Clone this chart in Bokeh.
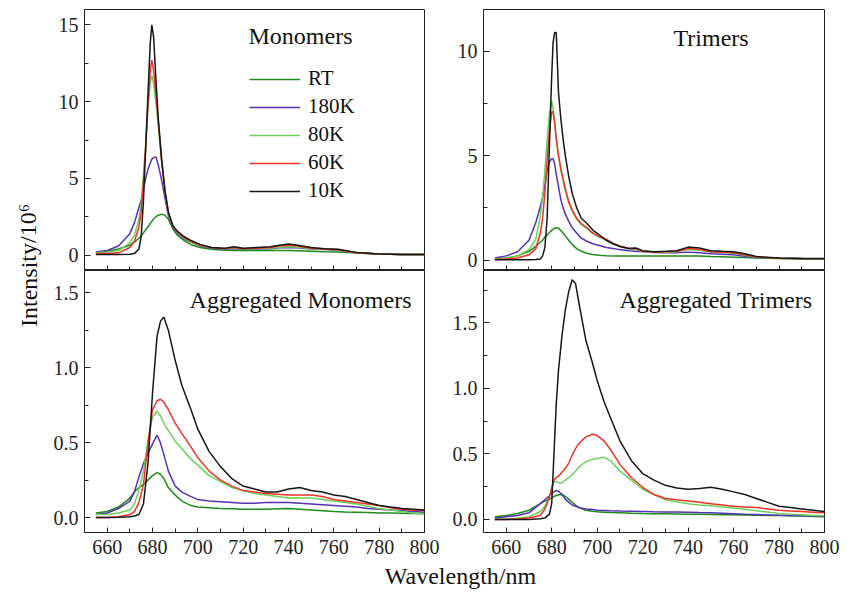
from bokeh.plotting import figure
from bokeh.models import (SingleIntervalTicker, NumeralTickFormatter, Label, Legend,
                          LegendItem, Range1d)
from bokeh.layouts import row, column
from bokeh.embed import file_html
from bokeh.resources import INLINE

FONT = "'Liberation Serif', 'DejaVu Serif', serif"

# ---------------- data ----------------
series_names = ["RT", "180K", "80K", "60K", "10K"]
series_colors = ["#1d8a1d", "#5531b3", "#6cd05a", "#ec3326", "#161616"]

# Monomers
mono_wl = [655, 660, 665, 670, 672, 674, 675, 676, 677, 678, 679, 679.7, 680.5, 681.5, 682.5, 684,
           685.5, 687, 689, 691, 694, 697, 701, 706, 712, 716, 720, 726, 732, 736, 740, 744, 750,
           756, 762, 770, 780, 790, 800]
mono_RT = [0.15, 0.25, 0.4, 0.65, 0.85, 1.1, 1.25, 1.45, 1.65, 1.85, 2.05, 2.2, 2.35, 2.5, 2.6, 2.67,
           2.6, 2.35, 1.7, 1.3, 0.95, 0.68, 0.5, 0.38, 0.32, 0.3, 0.3, 0.3, 0.3, 0.3, 0.3, 0.28, 0.25,
           0.22, 0.2, 0.14, 0.08, 0.05, 0.05]
mono_180K = [0.2, 0.3, 0.6, 1.4, 2.1, 3.1, 3.6, 4.3, 5.0, 5.6, 6.0, 6.25, 6.35, 6.4, 5.9, 4.9,
             3.7, 2.6, 1.8, 1.4, 1.05, 0.85, 0.6, 0.45, 0.38, 0.42, 0.38, 0.4, 0.42, 0.48, 0.5, 0.48,
             0.4, 0.36, 0.32, 0.15, 0.07, 0.05, 0.05]
mono_80K = [0.15, 0.2, 0.3, 0.8, 1.3, 2.3, 3.3, 5.2, 7.3, 9.6, 11.2, 11.7, 11.2, 10.0, 8.5, 6.1,
            4.1, 2.7, 1.85, 1.45, 1.1, 0.85, 0.62, 0.48, 0.4, 0.45, 0.4, 0.42, 0.45, 0.52, 0.55,
            0.52, 0.42, 0.38, 0.33, 0.15, 0.07, 0.05, 0.05]
mono_60K = [0.1, 0.1, 0.15, 0.5, 0.9, 1.8, 2.8, 4.8, 7.0, 9.8, 12.0, 12.7, 12.0, 10.5, 8.8, 6.2,
            4.2, 2.8, 1.9, 1.5, 1.15, 0.9, 0.65, 0.5, 0.42, 0.5, 0.42, 0.45, 0.5, 0.6, 0.65, 0.6,
            0.45, 0.4, 0.35, 0.16, 0.07, 0.05, 0.05]
mono_10K = [0.05, 0.05, 0.05, 0.06, 0.1, 0.4, 1.2, 3.5, 7.0, 10.5, 13.8, 15.0, 14.2, 11.5, 9.0, 6.3,
            4.2, 2.8, 1.9, 1.55, 1.2, 0.95, 0.7, 0.5, 0.45, 0.55, 0.45, 0.5, 0.55, 0.65, 0.72, 0.65,
            0.5, 0.42, 0.38, 0.18, 0.08, 0.05, 0.05]

# Trimers
tri_wl = [655, 660, 665, 670, 673, 675, 676, 677, 678, 679, 680, 680.6, 681.3, 682, 683, 684, 685,
          686, 687.5, 689, 691, 693, 695.5, 698, 701, 704, 707, 710, 714, 717, 720, 725, 730, 735,
          740, 745, 750, 755, 760, 765, 770, 780, 790, 800]
tri_RT = [0.05, 0.1, 0.2, 0.42, 0.65, 0.85, 0.95, 1.1, 1.2, 1.32, 1.42, 1.48, 1.52, 1.55, 1.53,
          1.42, 1.3, 1.15, 0.95, 0.75, 0.55, 0.42, 0.33, 0.27, 0.23, 0.21, 0.2, 0.19, 0.19, 0.19,
          0.19, 0.19, 0.19, 0.19, 0.2, 0.19, 0.17, 0.16, 0.14, 0.12, 0.1, 0.07, 0.05, 0.05]
tri_180K = [0.1, 0.2, 0.4, 0.95, 1.8, 2.55, 3.0, 3.6, 4.3, 4.7, 4.85, 4.85, 4.6, 4.1, 3.5, 2.9,
            2.5, 2.2, 1.85, 1.55, 1.3, 1.05, 0.9, 0.78, 0.7, 0.6, 0.55, 0.5, 0.45, 0.42, 0.4,
            0.36, 0.35, 0.35, 0.38, 0.35, 0.3, 0.28, 0.25, 0.18, 0.12, 0.09, 0.07, 0.06]
tri_80K = [0.05, 0.08, 0.2, 0.5, 1.0, 2.1, 3.0, 4.3, 5.8, 7.0, 7.6, 7.3, 6.6, 5.8, 5.0, 4.3, 3.8,
           3.3, 2.75, 2.35, 1.95, 1.7, 1.5, 1.28, 1.1, 0.95, 0.78, 0.65, 0.53, 0.52, 0.4, 0.37,
           0.38, 0.4, 0.5, 0.47, 0.38, 0.36, 0.33, 0.23, 0.14, 0.09, 0.07, 0.06]
tri_60K = [0.03, 0.05, 0.1, 0.25, 0.55, 1.3, 2.0, 3.2, 4.8, 6.2, 7.1, 7.1, 6.6, 5.8, 5.0, 4.4,
           3.9, 3.4, 2.8, 2.4, 2.0, 1.75, 1.55, 1.3, 1.12, 1.0, 0.8, 0.68, 0.55, 0.55, 0.42, 0.38,
           0.4, 0.42, 0.55, 0.5, 0.4, 0.38, 0.35, 0.25, 0.15, 0.09, 0.07, 0.06]
tri_10K = [0.02, 0.02, 0.02, 0.02, 0.03, 0.05, 0.2, 0.6, 2.0, 5.5, 8.8, 10.4, 10.9, 10.9, 8.0,
           6.8, 5.8, 5.0, 4.0, 3.2, 2.5, 2.0, 1.75, 1.45, 1.2, 0.95, 0.78, 0.65, 0.55, 0.58, 0.45,
           0.4, 0.42, 0.45, 0.62, 0.58, 0.45, 0.42, 0.4, 0.3, 0.17, 0.1, 0.08, 0.07]

# Aggregated monomers
amono_wl = [655, 660, 665, 670, 672, 674, 676, 678, 680, 682, 683.5, 685, 687, 690, 693, 697, 700,
            705, 710, 715, 720, 725, 730, 735, 740, 745, 750, 755, 760, 765, 770, 775, 780, 785,
            790, 795, 800]
amono_RT = [0.03, 0.04, 0.07, 0.13, 0.17, 0.2, 0.22, 0.25, 0.28, 0.3, 0.29, 0.26, 0.2, 0.15, 0.11,
            0.08, 0.07, 0.065, 0.06, 0.058, 0.055, 0.055, 0.055, 0.058, 0.06, 0.055, 0.05, 0.045,
            0.04, 0.037, 0.035, 0.033, 0.03, 0.03, 0.028, 0.027, 0.025]
amono_180K = [0.02, 0.03, 0.06, 0.11, 0.17, 0.27, 0.36, 0.43, 0.49, 0.55, 0.5, 0.42, 0.31, 0.21,
              0.17, 0.14, 0.12, 0.11, 0.105, 0.1, 0.095, 0.095, 0.1, 0.1, 0.1, 0.095, 0.09, 0.085,
              0.08, 0.075, 0.07, 0.06, 0.055, 0.05, 0.045, 0.04, 0.035]
amono_80K = [0.02, 0.02, 0.03, 0.05, 0.09, 0.18, 0.31, 0.52, 0.67, 0.71, 0.68, 0.63, 0.58, 0.51,
             0.46, 0.39, 0.35, 0.28, 0.24, 0.2, 0.18, 0.16, 0.15, 0.14, 0.13, 0.13, 0.13, 0.12,
             0.11, 0.1, 0.09, 0.075, 0.06, 0.05, 0.04, 0.03, 0.025]
amono_60K = [0.0, 0.0, 0.005, 0.02, 0.04, 0.1, 0.22, 0.49, 0.72, 0.78, 0.79, 0.77, 0.72, 0.63,
             0.56, 0.47, 0.4, 0.31, 0.25, 0.21, 0.18, 0.17, 0.16, 0.155, 0.15, 0.15, 0.15, 0.14,
             0.12, 0.11, 0.1, 0.09, 0.08, 0.065, 0.055, 0.05, 0.045]
amono_10K = [0.0, 0.0, 0.002, 0.005, 0.01, 0.02, 0.09, 0.36, 0.83, 1.21, 1.31, 1.34, 1.25, 1.05,
             0.88, 0.72, 0.59, 0.44, 0.34, 0.26, 0.21, 0.19, 0.17, 0.17, 0.19, 0.2, 0.18, 0.17,
             0.15, 0.14, 0.12, 0.1, 0.08, 0.07, 0.06, 0.055, 0.05]

# Aggregated trimers
atri_wl = [655, 660, 665, 670, 675, 677, 679, 680, 681, 682, 683, 684.5, 686, 687.5, 689, 690.5,
           692, 695, 698, 700, 703, 706, 710, 715, 720, 725, 730, 735, 740, 745, 750, 755, 760,
           765, 770, 775, 780, 785, 790, 795, 800]
atri_RT = [0.02, 0.03, 0.045, 0.07, 0.12, 0.14, 0.155, 0.165, 0.175, 0.182, 0.188, 0.19, 0.175,
           0.155, 0.13, 0.11, 0.09, 0.07, 0.062, 0.058, 0.055, 0.052, 0.05, 0.047, 0.045, 0.044,
           0.043, 0.042, 0.04, 0.039, 0.038, 0.036, 0.035, 0.033, 0.032, 0.03, 0.029, 0.027,
           0.025, 0.022, 0.02]
atri_180K = [0.01, 0.02, 0.03, 0.05, 0.12, 0.15, 0.18, 0.2, 0.21, 0.22, 0.215, 0.19, 0.155, 0.13,
             0.11, 0.1, 0.09, 0.08, 0.075, 0.07, 0.068, 0.066, 0.064, 0.062, 0.06, 0.058, 0.057,
             0.056, 0.055, 0.052, 0.05, 0.047, 0.044, 0.04, 0.037, 0.034, 0.031, 0.029, 0.027,
             0.026, 0.025]
atri_80K = [0.0, 0.003, 0.008, 0.02, 0.06, 0.1, 0.17, 0.24, 0.29, 0.29, 0.28, 0.28, 0.3, 0.32,
            0.34, 0.37, 0.4, 0.44, 0.46, 0.465, 0.475, 0.445, 0.37, 0.3, 0.23, 0.19, 0.15, 0.135,
            0.12, 0.11, 0.105, 0.095, 0.087, 0.077, 0.066, 0.056, 0.046, 0.04, 0.035, 0.03, 0.028]
atri_60K = [0.0, 0.0, 0.003, 0.01, 0.03, 0.08, 0.17, 0.24, 0.3, 0.32, 0.33, 0.36, 0.39, 0.43,
            0.49, 0.54, 0.58, 0.63, 0.65, 0.64, 0.6, 0.53, 0.42, 0.32, 0.245, 0.19, 0.16, 0.15,
            0.14, 0.13, 0.12, 0.11, 0.1, 0.095, 0.09, 0.08, 0.07, 0.065, 0.06, 0.055, 0.05]
atri_10K = [0.0, 0.0, 0.0, 0.0, 0.005, 0.01, 0.04, 0.12, 0.5, 0.88, 1.14, 1.4, 1.6, 1.74, 1.83,
            1.8, 1.65, 1.37, 1.19, 1.06, 0.9, 0.77, 0.6, 0.45, 0.35, 0.3, 0.26, 0.24, 0.23, 0.235,
            0.245, 0.23, 0.21, 0.19, 0.16, 0.13, 0.1, 0.09, 0.08, 0.07, 0.06]

x_ticks_interval = 20
AX = "#222222"


def make_panel(width, height, ymin, ymax, y_interval, border_left, border_right,
               border_top, border_bottom, show_x_labels, y_fmt=None):
    p = figure(width=width, height=height, output_backend="svg", toolbar_location=None,
               title=None,
               x_range=Range1d(650, 800), y_range=Range1d(ymin, ymax),
               min_border_left=border_left, min_border_right=border_right,
               min_border_top=border_top, min_border_bottom=border_bottom)
    p.grid.visible = False
    p.outline_line_color = AX
    p.outline_line_width = 1
    p.background_fill_color = "white"
    p.border_fill_color = "white"
    xa = p.xaxis[0]
    xa.ticker = SingleIntervalTicker(interval=x_ticks_interval, num_minor_ticks=2)
    xa.major_tick_in = 5
    xa.major_tick_out = 0
    xa.minor_tick_in = 4
    xa.minor_tick_out = 0
    xa.axis_line_color = AX
    xa.major_tick_line_color = AX
    xa.minor_tick_line_color = AX
    xa.major_label_text_font = FONT
    xa.major_label_text_font_size = "20px"
    if show_x_labels:
        xa.major_label_text_color = "#222222"
        xa.major_label_standoff = 7
    else:
        xa.major_label_text_color = None
        xa.major_label_standoff = 0
    ya = p.yaxis[0]
    ya.ticker = SingleIntervalTicker(interval=y_interval, num_minor_ticks=2)
    ya.major_tick_in = 6
    ya.major_tick_out = 0
    ya.minor_tick_in = 4
    ya.minor_tick_out = 0
    ya.axis_line_color = AX
    ya.major_tick_line_color = AX
    ya.minor_tick_line_color = AX
    ya.major_label_text_font = FONT
    ya.major_label_text_font_size = "20px"
    ya.major_label_text_color = "#222222"
    ya.major_label_standoff = 6
    if y_fmt:
        ya.formatter = NumeralTickFormatter(format=y_fmt)
    return p


def draw(p, wl, ys):
    rs = []
    for yv, c in zip(ys, series_colors):
        rs.append(p.line(wl, yv, line_color=c, line_width=1.5))
    return rs


def panel_label(p, text, x, y, align="left"):
    p.add_layout(Label(x=x, y=y, x_units="screen", y_units="screen", text=text,
                       text_font=FONT, text_font_size="24px", text_color="#111111",
                       text_align=align, text_baseline="middle"))


YW, LW, RW = 48, 396, 404
TOP_H, BOT_H, XL_H = 270, 294, 28

tl = make_panel(LW, TOP_H, -1, 16, 5, 36, 20, 9, 0, False)
tr = make_panel(RW, TOP_H, -0.5, 12, 5, 39, 24, 9, 0, False)
bl = make_panel(LW, BOT_H, -0.1, 1.65, 0.5, 36, 20, 0, 32, True, "0.0")
br = make_panel(RW, BOT_H, -0.1, 1.9, 0.5, 39, 24, 0, 32, True, "0.0")

r_tl = draw(tl, mono_wl, [mono_RT, mono_180K, mono_80K, mono_60K, mono_10K])
draw(tr, tri_wl, [tri_RT, tri_180K, tri_80K, tri_60K, tri_10K])
draw(bl, amono_wl, [amono_RT, amono_180K, amono_80K, amono_60K, amono_10K])
draw(br, atri_wl, [atri_RT, atri_180K, atri_80K, atri_60K, atri_10K])

legend = Legend(items=[LegendItem(label=n, renderers=[r]) for n, r in zip(series_names, r_tl)],
                location=(165, 67), padding=0, margin=0, spacing=3,
                glyph_width=51, glyph_height=20, label_height=20, label_standoff=8,
                label_text_font=FONT, label_text_font_size="21px", label_text_color="#111111",
                border_line_color=None, background_fill_alpha=0)
tl.add_layout(legend)

panel_label(tl, "Monomers", 164, 235)
panel_label(tr, "Trimers", 190, 233)
panel_label(bl, "Aggregated Monomers", 327, 233, "right")
panel_label(br, "Aggregated Trimers", 329, 233, "right")

# y-axis title strip
ystrip = figure(width=YW, height=TOP_H + BOT_H, output_backend="svg", toolbar_location=None,
                title=None, min_border=0, x_range=Range1d(0, 1), y_range=Range1d(0, 1))
ystrip.axis.visible = False
ystrip.grid.visible = False
ystrip.outline_line_color = None
ystrip.add_layout(Label(x=28, y=TOP_H + BOT_H - 265, x_units="screen", y_units="screen",
                        text="Intensity/10\u2076", angle=1.5708, text_font=FONT,
                        text_font_size="24px", text_color="#111111",
                        text_align="center", text_baseline="middle"))

# x-axis title strip
xstrip = figure(width=YW + LW + RW, height=XL_H, output_backend="svg", toolbar_location=None,
                title=None, min_border=0, x_range=Range1d(0, 1), y_range=Range1d(0, 1))
xstrip.axis.visible = False
xstrip.grid.visible = False
xstrip.outline_line_color = None
xstrip.add_layout(Label(x=460, y=17, x_units="screen", y_units="screen", text="Wavelength/nm",
                        text_font=FONT, text_font_size="24px", text_color="#111111",
                        text_align="center", text_baseline="middle"))

layout = column(row(ystrip, column(row(tl, tr), row(bl, br))), xstrip)

open("out.html", "w").write(file_html(layout, INLINE))
